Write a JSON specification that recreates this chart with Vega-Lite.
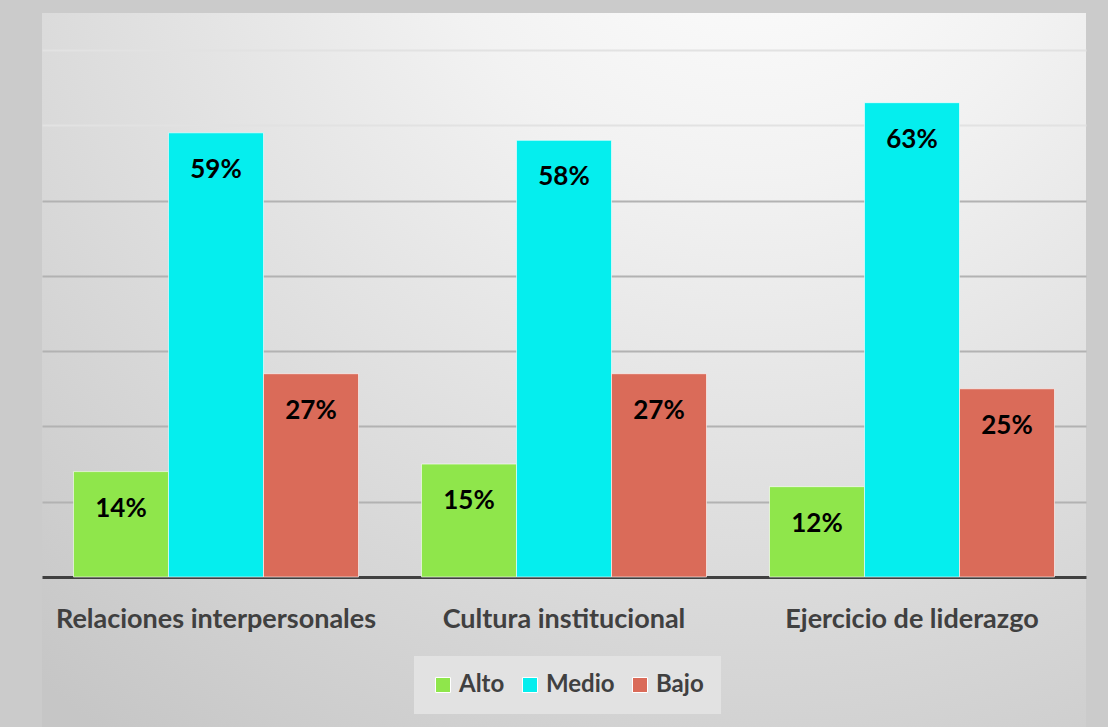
{
  "$schema": "https://vega.github.io/schema/vega-lite/v6.json",
  "autosize": {"type": "none"},
  "width": 1044,
  "height": 714,
  "padding": {"left": 42, "top": 13, "right": 22, "bottom": 0},
  "background": "#cbcbcb",
  "view": {
    "stroke": null,
    "fill": {
      "gradient": "radial",
      "x1": 0.68, "y1": 0.0, "r1": 0,
      "x2": 0.68, "y2": 0.0, "r2": 1.05,
      "stops": [
        {"offset": 0, "color": "#ffffff"},
        {"offset": 0.3, "color": "#f2f2f2"},
        {"offset": 0.65, "color": "#dcdcdc"},
        {"offset": 1, "color": "#c6c6c6"}
      ]
    }
  },
  "data": {
    "values": [
      {"dimension": "Relaciones interpersonales", "nivel": "Alto", "valor": 0.14},
      {"dimension": "Relaciones interpersonales", "nivel": "Medio", "valor": 0.59},
      {"dimension": "Relaciones interpersonales", "nivel": "Bajo", "valor": 0.27},
      {"dimension": "Cultura institucional", "nivel": "Alto", "valor": 0.15},
      {"dimension": "Cultura institucional", "nivel": "Medio", "valor": 0.58},
      {"dimension": "Cultura institucional", "nivel": "Bajo", "valor": 0.27},
      {"dimension": "Ejercicio de liderazgo", "nivel": "Alto", "valor": 0.12},
      {"dimension": "Ejercicio de liderazgo", "nivel": "Medio", "valor": 0.63},
      {"dimension": "Ejercicio de liderazgo", "nivel": "Bajo", "valor": 0.25}
    ]
  },
  "encoding": {
    "x": {
      "field": "dimension",
      "type": "nominal",
      "sort": ["Relaciones interpersonales", "Cultura institucional", "Ejercicio de liderazgo"],
      "scale": {"paddingInner": 0.181, "paddingOuter": 0.0905},
      "axis": {
        "title": null,
        "orient": "bottom",
        "offset": -150,
        "labelAngle": 0,
        "ticks": false,
        "tickSize": 0,
        "labelPadding": 42,
        "labelBaseline": "middle",
        "labelLimit": 0,
        "labelFont": "Lato",
        "labelFontWeight": "bold",
        "labelFontSize": 27,
        "labelColor": "#404040",
        "domainColor": "#404040",
        "domainWidth": 3,
        "grid": false
      }
    },
    "xOffset": {
      "field": "nivel",
      "type": "nominal",
      "sort": ["Alto", "Medio", "Bajo"],
      "scale": {"paddingInner": 0, "paddingOuter": 0}
    },
    "y": {
      "field": "valor",
      "type": "quantitative",
      "scale": {"domain": [-0.19924, 0.74915], "nice": false, "zero": false},
      "axis": {
        "title": null,
        "labels": false,
        "ticks": false,
        "domain": false,
        "values": [0.1, 0.2, 0.3, 0.4, 0.5, 0.6, 0.7],
        "grid": true,
        "gridWidth": 2,
        "gridColor": {"condition": {"test": "datum.value >= 0.55", "value": "#e2e2e2"}, "value": "#b2b2b2"}
      }
    }
  },
  "layer": [
    {
      "mark": {"type": "bar", "stroke": "#ffffff", "strokeWidth": 1, "strokeOpacity": 0.6},
      "encoding": {
        "y2": {"datum": 0},
        "color": {
          "field": "nivel",
          "type": "nominal",
          "sort": ["Alto", "Medio", "Bajo"],
          "scale": {"domain": ["Alto", "Medio", "Bajo"], "range": ["#8fe64b", "#05eeee", "#da6b59"]},
          "legend": {
            "title": null,
            "orient": "none",
            "legendX": 372,
            "legendY": 643,
            "direction": "horizontal",
            "fillColor": "#e2e2e2",
            "padding": 17,
            "symbolType": "square",
            "symbolSize": 225,
            "symbolStrokeColor": "#ffffff",
            "symbolStrokeWidth": 1,
            "labelFont": "Lato",
            "labelFontWeight": "bold",
            "labelFontSize": 24,
            "labelColor": "#404040",
            "labelOffset": 4,
            "columnPadding": 13
          }
        }
      }
    },
    {
      "mark": {"type": "text", "font": "Lato", "fontWeight": "bold", "fontSize": 26, "baseline": "middle", "dy": 37, "color": "#000000"},
      "encoding": {
        "text": {"field": "valor", "type": "quantitative", "format": ".0%"}
      }
    }
  ]
}
